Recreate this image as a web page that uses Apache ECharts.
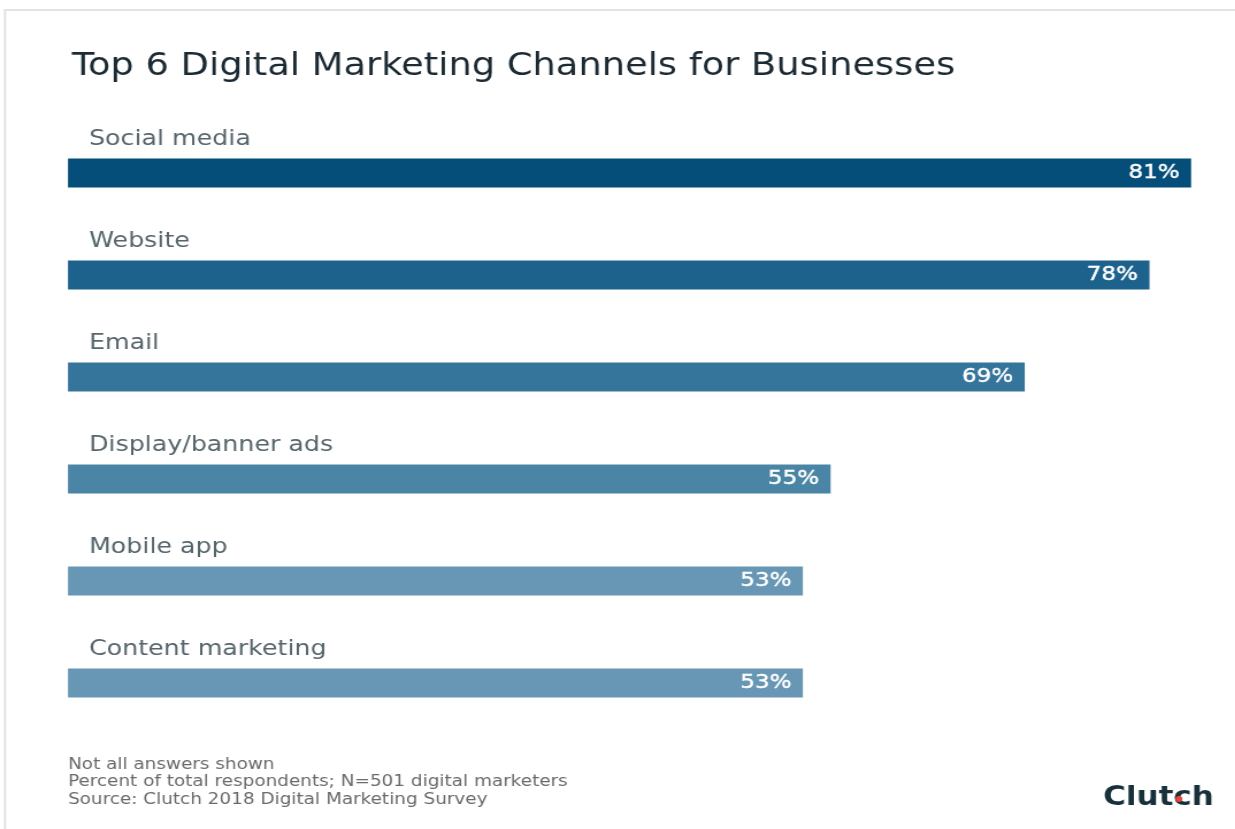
<!DOCTYPE html>
<html>
<head>
<meta charset="utf-8">
<script src="https://cdn.jsdelivr.net/npm/echarts@6/dist/echarts.min.js"></script>
<style>
html,body{margin:0;padding:0;background:#fff;overflow:hidden;}
#chart{width:1074px;height:829px;transform:scaleX(1.15);transform-origin:0 0;}
</style>
</head>
<body>
<div id="chart"></div>
<script>
const categories = ['Social media', 'Website', 'Email', 'Display/banner ads', 'Mobile app', 'Content marketing'];
const values = [81, 78, 69, 55, 53, 53];
const barColors = ['#054e79', '#1d628c', '#35749b', '#4b85a5', '#6797b4', '#6797b4'];
const footnotes = ['Not all answers shown', 'Percent of total respondents; N=501 digital marketers', 'Source: Clutch 2018 Digital Marketing Survey'];
const titleText = 'Top 6 Digital Marketing Channels for Businesses';
const logoText = 'Clutch';

const S = 1.15; // horizontal stretch of the whole picture
const chart = echarts.init(document.getElementById('chart'));
const font = 'DejaVu Sans';
chart.setOption({
  backgroundColor: '#ffffff',
  animation: false,
  title: {
    text: titleText,
    left: 66 / S, top: 46,
    textStyle: {fontFamily: font, fontSize: 32, fontWeight: 'normal', color: '#1b2a33'}
  },
  grid: {left: 68 / S, right: 44 / S, top: 122, bottom: 95},
  xAxis: {type: 'value', min: 0, max: 81, show: false},
  yAxis: {
    type: 'category', data: categories, inverse: true,
    axisLine: {show: false}, axisTick: {show: false}, axisLabel: {show: false}
  },
  series: [{
    type: 'bar',
    data: values.map((v, i) => ({value: v, itemStyle: {color: barColors[i]}})),
    barWidth: 29,
    label: {
      show: true, position: 'insideRight', distance: 10,
      formatter: '{c}%',
      fontFamily: font, fontSize: 20, color: '#ffffff',
      textBorderColor: '#ffffff', textBorderWidth: 0.4
    }
  }, {
    type: 'bar',
    data: values,
    barWidth: 29, barGap: '-100%',
    itemStyle: {color: 'rgba(0,0,0,0)'},
    silent: true,
    label: {
      show: true, position: 'insideLeft', distance: 0, offset: [21 / S, -34],
      formatter: p => categories[p.dataIndex],
      fontFamily: font, fontSize: 22, color: '#56666c'
    }
  }],
  graphic: [
    {type: 'polyline', shape: {points: [[5 / S, 829], [5 / S, 10], [1074, 10]]}, style: {stroke: '#e2e2e2', lineWidth: 2, fill: null}},
    {type: 'text', left: 68 / S, top: 756, style: {text: footnotes.join('\n'), fontFamily: font, fontSize: 16, lineHeight: 17.5, fill: '#6a6a6a'}},
    {type: 'text', x: 1103 / S, y: 798, style: {text: logoText, fontFamily: font, fontSize: 27, fontWeight: 'bold', fill: '#17303a', verticalAlign: 'middle'}},
    {type: 'circle', shape: {cx: 1179 / S, cy: 799, r: 3}, style: {fill: '#e8463c'}}
  ]
});
</script>
</body>
</html>
